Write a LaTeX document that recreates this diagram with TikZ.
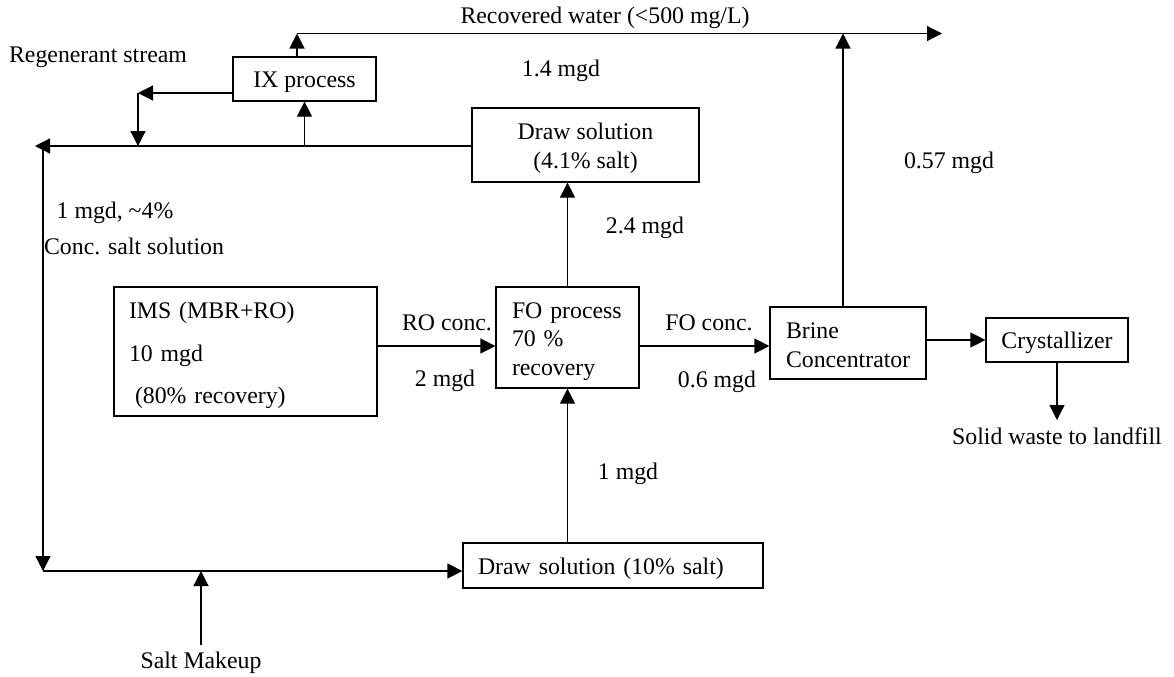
\documentclass[tikz,border=0pt]{standalone}
\usepackage{fontspec}
\setmainfont{Liberation Serif}
\usetikzlibrary{arrows.meta,calc}

\begin{document}
\begin{tikzpicture}[x=0.5pt,y=-0.5pt,
    font=\fontsize{11.9}{14}\selectfont,
    line width=0.6pt,
    >={Triangle[length=7.5pt,width=7.5pt]},
    box/.style={draw,rectangle,inner ysep=0pt},
    sbox/.style={box,text height=11.5pt,text depth=2.6pt},
    lbox/.style={box,align=left,inner xsep=7.5pt}]
    \useasboundingbox (0,0) rectangle (1174,676);

    % process boxes
    \node[sbox,minimum width=71.5pt,minimum height=22pt] (IXProc) at (304.5,79) {IX process};
    \node[box,align=center,minimum width=113.5pt,minimum height=37pt,
      font=\fontsize{11.9}{14.5}\selectfont] (DrawLow) at (585.5,145)
      {\rule{0pt}{12pt}Draw solution\\(4.1\% salt)};
    \node[lbox,text width=116.5pt,minimum height=64.5pt,
      font=\fontsize{11.9}{21.25}\selectfont] (IMS) at (245.5,351.5)
      {\rule{0pt}{12.5pt}IMS (MBR+RO)\\10 mgd\\\hspace*{3pt}(80\% recovery)};
    \node[lbox,text width=55.5pt,inner xsep=8pt,minimum height=50.5pt,
      font=\fontsize{11.9}{14.25}\selectfont] (FOProc) at (567.5,337.5)
      {\rule{0pt}{12pt}FO process\\70 \%\\recovery};
    \node[lbox,text width=62pt,inner xsep=8pt,minimum height=36pt,
      font=\fontsize{11.9}{14.5}\selectfont] (Brine) at (848,343)
      {\rule{0pt}{10pt}Brine\\Concentrator};
    \node[sbox,minimum width=71pt,minimum height=22pt] (Cryst) at (1057,340) {Crystallizer};
    \node[lbox,text width=135pt,minimum height=22.5pt,
      text height=11.5pt,text depth=2.6pt] (DrawHigh) at (613,565.5) {Draw solution (10\% salt)};

    % free ends of the lines
    \coordinate (RWLeft)    at (297,33.5);
    \coordinate (RWRight)   at (942,33.5);
    \coordinate (RecLeft)   at (35,146);
    \coordinate (RegCorner) at (138,93);
    \coordinate (LoopTop)   at (43,150);
    \coordinate (LoopBot)   at (43,571);
    \coordinate (ROLine)    at (0,346);
    \coordinate (SolidEnd)  at (1057,420);

    % labels
    \node (RWText)    at (605,18)  {Recovered water (<500 mg/L)};
    \node (RegText)   at (98,57)   {Regenerant stream};
    \node (FlowIX)    at (561,71)  {1.4 mgd};
    \node (FlowBC)    at (949,163) {0.57 mgd};
    \node (FlowDraw)  at (645,228) {2.4 mgd};
    \node (FlowLoop)  at (115,213) {1 mgd, \textasciitilde4\%};
    \node (LoopText)  at (134,246) {Conc. salt solution};
    \node (ROText)    at (447,323) {RO conc.};
    \node (FlowRO)    at (445,381) {2 mgd};
    \node (FOText)    at (709,323) {FO conc.};
    \node (FlowFO)    at (717,382) {0.6 mgd};
    \node (FlowHigh)  at (628,474) {1 mgd};
    \node (Solid)     at (1057,436) {Solid waste to landfill};
    \node (Salt)      at (201,663) {Salt Makeup};

    % recovered water
    \draw[->] (IXProc.north -| RWLeft) -- (RWLeft);
    \draw[->] (RWLeft) -- (RWRight);
    \draw[->] ([xshift=-2.5pt]Brine.north) -- ([xshift=-2.5pt]Brine.north |- RWLeft);
    % draw solution loop
    \draw[->] (DrawLow.west |- RecLeft) -- (RecLeft);
    \draw[->] (IXProc.south |- RecLeft) -- (IXProc.south);
    \draw[->] (IXProc.west |- RegCorner) -- (RegCorner);
    \draw[->] (RegCorner) -- (RegCorner |- RecLeft);
    \draw[->] (LoopTop) -- (LoopBot);
    \draw[->] (LoopBot) -- (DrawHigh.west |- LoopBot);
    \draw[->] (Salt.north) -- (Salt.north |- LoopBot);
    \draw[->] (FOProc.south |- DrawHigh.north) -- (FOProc.south);
    \draw[->] (FOProc.north) -- (FOProc.north |- DrawLow.south);
    % main train
    \draw[->] (IMS.east |- ROLine) -- (FOProc.west |- ROLine);
    \draw[->] (FOProc.east |- ROLine) -- (Brine.west |- ROLine);
    \draw[->] (Brine.east |- Cryst.west) -- (Cryst.west);
    \draw[->] (Cryst.south) -- (SolidEnd);

\end{tikzpicture}
\end{document}
